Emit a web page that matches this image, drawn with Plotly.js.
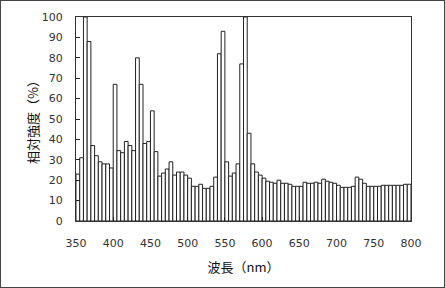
<!DOCTYPE html>
<html>
<head>
<meta charset="utf-8">
<script src="https://cdn.plot.ly/plotly-3.0.1.min.js"></script>
<style>
html,body{margin:0;padding:0;background:#fff;}
#frame{width:445px;height:288px;box-sizing:border-box;border:1px solid #444;background:#fff;}
#chart{width:443px;height:286px;}
</style>
</head>
<body>
<div id="frame"><div id="chart"></div></div>
<script>
// Bin start wavelengths (nm), 5 nm bins
const wavelengths = [
  350,355,360,365,370,375,380,385,390,395,
  400,405,410,415,420,425,430,435,440,445,
  450,455,460,465,470,475,480,485,490,495,
  500,505,510,515,520,525,530,535,540,545,
  550,555,560,565,570,575,580,585,590,595,
  600,605,610,615,620,625,630,635,640,645,
  650,655,660,665,670,675,680,685,690,695,
  700,705,710,715,720,725,730,735,740,745,
  750,755,760,765,770,775,780,785,790,795
];
// Relative intensity (%)
const intensity = [
  23,31,100,88,37,32,29,28,28,26,
  67,34.5,33.5,39,37,34.5,80,67,38,39,
  54,34,22,23.5,25.5,29,22.5,24,24,22.5,
  21,17,17,18,16,16,17,21.5,82,93,
  29,22,23.5,28,77,100,43,28,24,22.5,
  21,19.5,19,18.5,20,18.5,18.5,18,17,17,
  17,19,18.5,18.5,19,18.5,20.5,19.5,19,18.5,
  17.5,16.5,16.5,16.5,17,21.5,20.5,18.5,17,17,
  17,17,17.5,17.5,17.5,17.5,17.5,17.5,18,18
];
const xTicks = [350,400,450,500,550,600,650,700,750,800];
const yTicks = [0,10,20,30,40,50,60,70,80,90,100];
const xTitle = "波長（nm）";
const yTitle = "相対強度（%）";

const trace = {
  type: "bar",
  x: wavelengths,
  y: intensity,
  offset: 0,
  width: 5,
  marker: {color: "#ffffff", line: {color: "#222222", width: 1}},
  hoverinfo: "x+y"
};

const tickFont = {family: "DejaVu Sans, Liberation Sans, sans-serif", size: 11, color: "#333"};
const titleFont = {family: "Noto Sans CJK JP, sans-serif", size: 13, color: "#111"};

const layout = {
  width: 443, height: 286,
  margin: {l: 75, r: 33, t: 16, b: 66},
  paper_bgcolor: "#ffffff",
  plot_bgcolor: "#ffffff",
  showlegend: false,
  bargap: 0,
  xaxis: {
    range: [350, 800],
    tickvals: xTicks,
    ticktext: xTicks.map(String),
    ticks: "inside", ticklen: 4, tickcolor: "#222", tickwidth: 1,
    showline: true, linecolor: "#333", linewidth: 1, mirror: true,
    showgrid: false, zeroline: false,
    tickfont: tickFont,
    ticklabelstandoff: 12,
    title: {text: xTitle, font: titleFont, standoff: 13}
  },
  yaxis: {
    range: [0, 100],
    tickvals: yTicks,
    ticktext: yTicks.map(String),
    ticks: "inside", ticklen: 4, tickcolor: "#222", tickwidth: 1,
    showline: true, linecolor: "#333", linewidth: 1, mirror: true,
    showgrid: false, zeroline: false,
    tickfont: tickFont,
    ticklabelstandoff: 10,
    title: {text: yTitle, font: titleFont, standoff: 0}
  }
};

Plotly.newPlot("chart", [trace], layout, {displayModeBar: false, staticPlot: true});
</script>
</body>
</html>
